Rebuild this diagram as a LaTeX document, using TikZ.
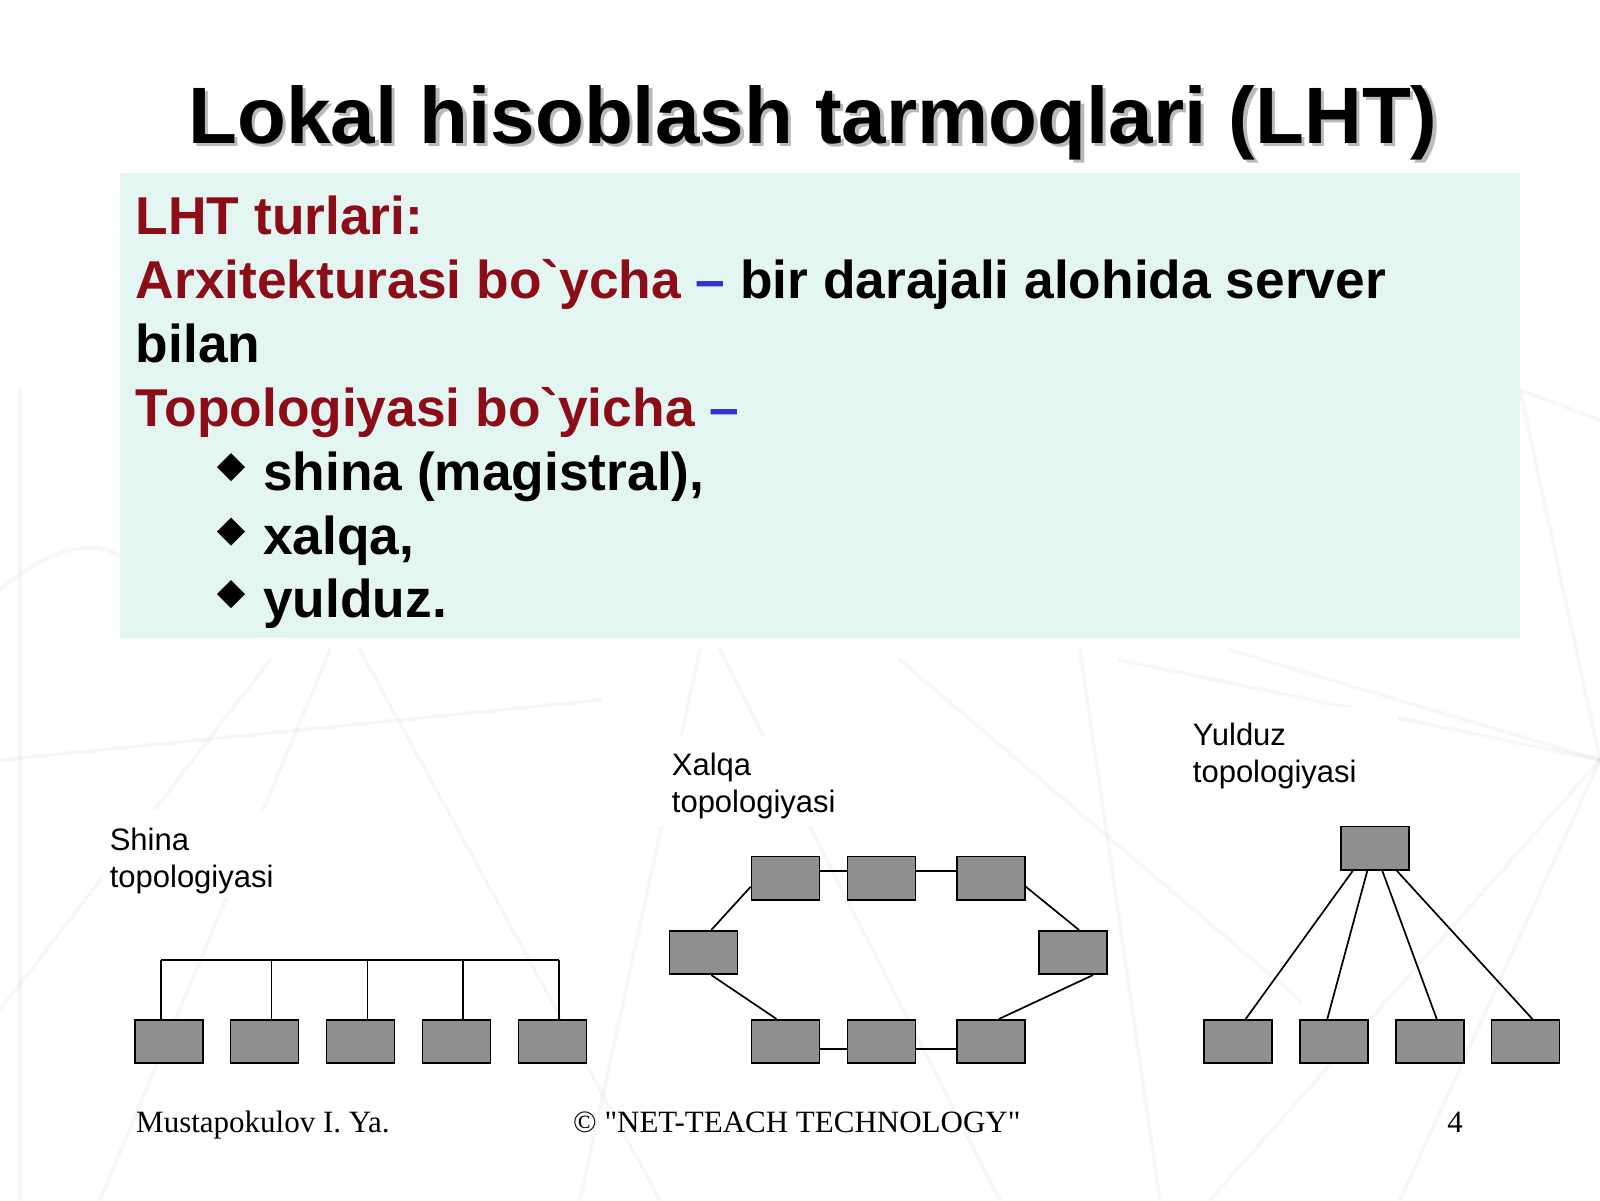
\documentclass[tikz,border=0pt]{standalone}
\usepackage{fontspec}
\setmainfont{Liberation Serif}
\newfontfamily\lsans{Liberation Sans}
\newfontfamily\footfont{Liberation Serif}
\newcommand\grv{\symbol{96}}
\definecolor{darkred}{RGB}{140,12,24}
\definecolor{dashblue}{RGB}{50,50,210}
\definecolor{tealbox}{RGB}{226,246,241}
\definecolor{pcgray}{RGB}{143,143,143}
\tikzset{
  pc/.style={draw=black, fill=pcgray, line width=1.6pt, minimum width=68pt, minimum height=43.5pt, inner sep=0pt},
  link/.style={draw=black, line width=1.7pt},
  body/.style={anchor=base west, inner sep=0pt, font=\lsans\bfseries\fontsize{53.3}{64}\selectfont},
  caption/.style={anchor=base west, inner sep=0pt, align=left, font=\lsans\fontsize{31}{37}\selectfont},
  foot/.style={anchor=base west, inner sep=0pt, font=\footfont\fontsize{31}{37}\selectfont},
  texture/.style={line width=4pt, draw=gray, draw opacity=0.06, line cap=round},
  bulletmark/.style={fill=black},
}
\begin{document}
\begin{tikzpicture}[x=1pt,y=-1pt]
\useasboundingbox (0,0) rectangle (1600,1200);
\fill[white] (0,0) rectangle (1600,1200);
% faint background texture
\draw[texture] (20,390) -- (20,1200);
\draw[texture] (0,590) .. controls (60,540) and (100,540) .. (125,560);
\draw[texture] (0,1010) -- (270,660);
\draw[texture] (100,1200) -- (330,650);
\draw[texture] (360,650) -- (660,1200);
\draw[texture] (700,650) -- (580,1200);
\draw[texture] (720,650) -- (1000,1200);
\draw[texture] (0,760) -- (600,700);
\draw[texture] (1600,760) -- (1120,660);
\draw[texture] (1600,760) -- (1230,650);
\draw[texture] (1600,760) -- (1210,1200);
\draw[texture] (1600,760) -- (1400,1200);
\draw[texture] (1600,760) -- (1520,390);
\draw[texture] (1520,390) -- (1600,420);
\draw[texture] (1080,650) -- (1160,1200);
\draw[texture] (900,660) -- (1300,1000);
% teal panel
\fill[tealbox, fill opacity=0.92] (120,173) rectangle (1520,638);
% title
\node[anchor=base, inner sep=0pt, text=gray!55, font=\lsans\bfseries\fontsize{80}{90}\selectfont] (titleshadow) at (816.5,146.5) {Lokal hisoblash tarmoqlari (LHT)};
\node[anchor=base, inner sep=0pt, font=\lsans\bfseries\fontsize{80}{90}\selectfont] (title) at (813,143) {Lokal hisoblash tarmoqlari (LHT)};
% body text
\node[body, text=darkred] (l1) at (135.7,234.7) {LHT turlari:};
\node[body] (l2) at (135.7,298.9) {\textcolor{darkred}{Arxitekturasi bo\grv ycha} \textcolor{dashblue}{–} bir darajali alohida server};
\node[body] (l3) at (135.7,362.2) {bilan};
\node[body, text=darkred] (l4) at (135.7,426.5) {Topologiyasi bo\grv yicha \textcolor{dashblue}{–}};
\node[body] (l5) at (263,490.8) {shina (magistral),};
\node[body] (l6) at (263,554) {xalqa,};
\node[body] (l7) at (263,617.3) {yulduz.};
\fill[bulletmark] (231,453) -- (245,467) -- (231,481) -- (217,467) -- cycle;
\fill[bulletmark] (231,517.5) -- (245,531.5) -- (231,545.5) -- (217,531.5) -- cycle;
\fill[bulletmark] (231,580) -- (245,594) -- (231,608) -- (217,594) -- cycle;
% caption backgrounds
\fill[white] (103,810) rectangle (300,898);
\fill[white] (655,737) rectangle (877,826);
\fill[white] (1181,707) rectangle (1398,794);
\node[caption] (capS) at (109.6,887) {Shina\\topologiyasi};
\node[caption] (capX) at (671.7,812) {Xalqa\\topologiyasi};
\node[caption] (capY) at (1192.7,782) {Yulduz\\topologiyasi};
% --- bus topology
\node[pc] (s1) at (168.9,1041.5) {};
\node[pc] (s2) at (264.5,1041.5) {};
\node[pc] (s3) at (360.6,1041.5) {};
\node[pc] (s4) at (456.3,1041.5) {};
\node[pc] (s5) at (552.5,1041.5) {};
\coordinate (b1) at (161,960);
\coordinate (b2) at (271.5,960);
\coordinate (b3) at (367.5,960);
\coordinate (b4) at (463,960);
\coordinate (b5) at (559,960);
\draw[link] (b1) -- (b5);
\draw[link] (b1) -- (b1 |- s1.north);
\draw[link] (b2) -- (b2 |- s2.north);
\draw[link] (b3) -- (b3 |- s3.north);
\draw[link] (b4) -- (b4 |- s4.north);
\draw[link] (b5) -- (b5 |- s5.north);
% --- ring topology
\node[pc] (r1) at (785.5,878.2) {};
\node[pc] (r2) at (881.5,878.2) {};
\node[pc] (r3) at (991,878.2) {};
\node[pc] (r4) at (703.3,952.5) {};
\node[pc] (r5) at (1073,952.5) {};
\node[pc] (r6) at (785.5,1041.5) {};
\node[pc] (r7) at (881.5,1041.5) {};
\node[pc] (r8) at (991,1041.5) {};
\draw[link] ([yshift=7.5pt]r1.east) -- ([yshift=7.5pt]r2.west);
\draw[link] ([yshift=7.5pt]r2.east) -- ([yshift=7.5pt]r3.west);
\draw[link] ([yshift=-7.5pt]r6.east) -- ([yshift=-7.5pt]r7.west);
\draw[link] ([yshift=-7.5pt]r7.east) -- ([yshift=-7.5pt]r8.west);
\draw[link] ([yshift=-8.5pt]r1.west) -- ([xshift=8pt]r4.north);
\draw[link] ([xshift=8pt]r4.south) -- ([xshift=-9pt]r6.north);
\draw[link] ([yshift=-8.5pt]r3.east) -- ([xshift=6pt]r5.north);
\draw[link] ([xshift=20pt]r5.south) -- ([xshift=8pt]r8.north);
% --- star topology
\node[pc] (y0) at (1374.8,848.2) {};
\node[pc] (y1) at (1238,1041.5) {};
\node[pc] (y2) at (1333.7,1041.5) {};
\node[pc] (y3) at (1429.7,1041.5) {};
\node[pc] (y4) at (1525.5,1041.5) {};
\draw[link] ([xshift=-22pt]y0.south) -- ([xshift=7.7pt]y1.north);
\draw[link] ([xshift=-7.5pt]y0.south) -- ([xshift=-6.4pt]y2.north);
\draw[link] ([xshift=7.5pt]y0.south) -- ([xshift=7pt]y3.north);
\draw[link] ([xshift=22pt]y0.south) -- ([xshift=6.8pt]y4.north);
% footer
\node[foot] (f1) at (136,1132) {Mustapokulov I. Ya.};
\node[foot] (f2) at (573,1132) {© "NET-TEACH TECHNOLOGY"};
\node[foot, anchor=base east] (f3) at (1463,1132) {4};
\end{tikzpicture}
\end{document}
